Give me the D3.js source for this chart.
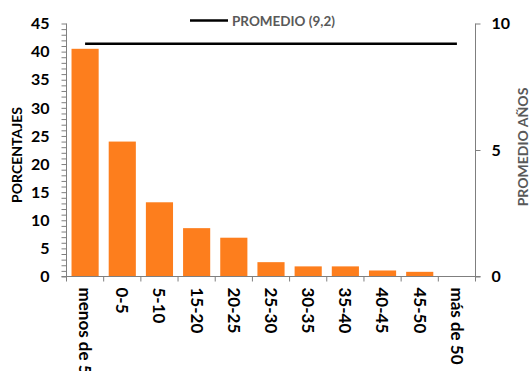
<!DOCTYPE html>
<html><head><meta charset="utf-8">
<script src="https://cdn.jsdelivr.net/npm/d3@7"></script>
<style>
body{margin:0;background:#fff;}
text{font-family:Lato,"Open Sans",sans-serif;font-weight:bold;}
</style></head>
<body><svg id="c" width="532" height="371"></svg>
<script>
// Distribution of ages (percent) with the overall mean age
const categories = ["menos de 5","0-5","5-10","15-20","20-25","25-30","30-35","35-40","40-45","45-50","más de 50"];
const percentages = [40.5, 24.0, 13.2, 8.6, 6.9, 2.55, 1.8, 1.8, 1.07, 0.83, 0];
const averageYears = 9.2;
const leftTicks = [0,5,10,15,20,25,30,35,40,45];
const rightTicks = [0,5,10];
const legendLabel = "PROMEDIO (9,2)";

const svg = d3.select("#c");
const m = {l:66.5, r:475.5, t:23.5, b:276.5};

const x = d3.scaleBand().domain(categories).range([m.l, m.r]).paddingInner(0.27).paddingOuter(0.135);
const xb = d3.scaleBand().domain(categories).range([m.l, m.r]);
const yL = d3.scaleLinear().domain([0,45]).range([m.b, m.t]);
const yR = d3.scaleLinear().domain([0,10]).range([m.b, m.t]);

// bars
svg.append("g").selectAll("rect").data(percentages).join("rect")
  .attr("x",(d,i)=>x(categories[i]))
  .attr("width",x.bandwidth())
  .attr("y",d=>yL(d))
  .attr("height",d=>yL(0)-yL(d))
  .attr("fill","#FD7E1D");

// mean line across category centres
const line = d3.line().x(d=>xb(d)+xb.bandwidth()/2).y(()=>yR(averageYears));
svg.append("path").datum(categories).attr("d",line)
  .attr("fill","none").attr("stroke","#000").attr("stroke-width",2.5);

const axisColor = "#7f7f7f";

// left axis with minor ticks
const gL = svg.append("g").attr("transform",`translate(${m.l},0)`);
gL.call(d3.axisLeft(yL).tickValues(d3.range(0,46,1)).tickSize(5).tickFormat(""));
gL.call(g=>g.selectAll("line").attr("stroke",axisColor));
gL.call(g=>g.select(".domain").attr("stroke",axisColor).attr("d",`M0,${m.t}V${m.b}`));
gL.append("g").selectAll("text").data(leftTicks).join("text")
  .attr("x",-17).attr("y",d=>yL(d)).attr("dy","0.36em")
  .attr("text-anchor","end").attr("font-size",16).attr("fill","#000").text(d=>d);

// right axis
const gR = svg.append("g").attr("transform",`translate(${m.r},0)`);
gR.call(d3.axisRight(yR).tickValues(rightTicks).tickSize(5).tickFormat(""));
gR.call(g=>g.selectAll("line").attr("stroke",axisColor));
gR.call(g=>g.select(".domain").attr("stroke",axisColor).attr("d",`M0,${m.t}V${m.b}`));
gR.append("g").selectAll("text").data(rightTicks).join("text")
  .attr("x",16).attr("y",d=>yR(d)).attr("dy","0.36em")
  .attr("text-anchor","start").attr("font-size",16).attr("fill","#000").text(d=>d);

// category axis: ticks at band boundaries
const gX = svg.append("g").attr("transform",`translate(0,${m.b})`);
gX.append("line").attr("x1",m.l-5).attr("x2",m.r+5).attr("stroke",axisColor);
gX.selectAll("line.t").data(d3.range(categories.length+1)).join("line").attr("class","t")
  .attr("x1",i=>m.l+i*xb.bandwidth()).attr("x2",i=>m.l+i*xb.bandwidth())
  .attr("y1",0).attr("y2",5).attr("stroke",axisColor);
gX.selectAll("text").data(categories).join("text")
  .attr("transform",d=>`translate(${xb(d)+xb.bandwidth()/2},11) rotate(90)`)
  .attr("dy","0.36em").attr("text-anchor","start").attr("font-size",17).attr("fill","#000").text(d=>d);

// axis titles
svg.append("text").attr("transform",`translate(17,155) rotate(-90)`)
  .attr("text-anchor","middle").attr("dy","0.36em").attr("font-size",14).attr("fill","#000").text("PORCENTAJES");
svg.append("text").attr("transform",`translate(523,147) rotate(-90)`)
  .attr("text-anchor","middle").attr("font-size",14).attr("fill","#595959").attr("dy","0.36em").text("PROMEDIO AÑOS");

// legend
svg.append("line").attr("x1",190).attr("x2",228).attr("y1",20.5).attr("y2",20.5).attr("stroke","#000").attr("stroke-width",2.5);
svg.append("text").attr("x",232).attr("y",21).attr("dy","0.36em").attr("font-size",13.5).attr("fill","#595959").text(legendLabel);
</script></body></html>
